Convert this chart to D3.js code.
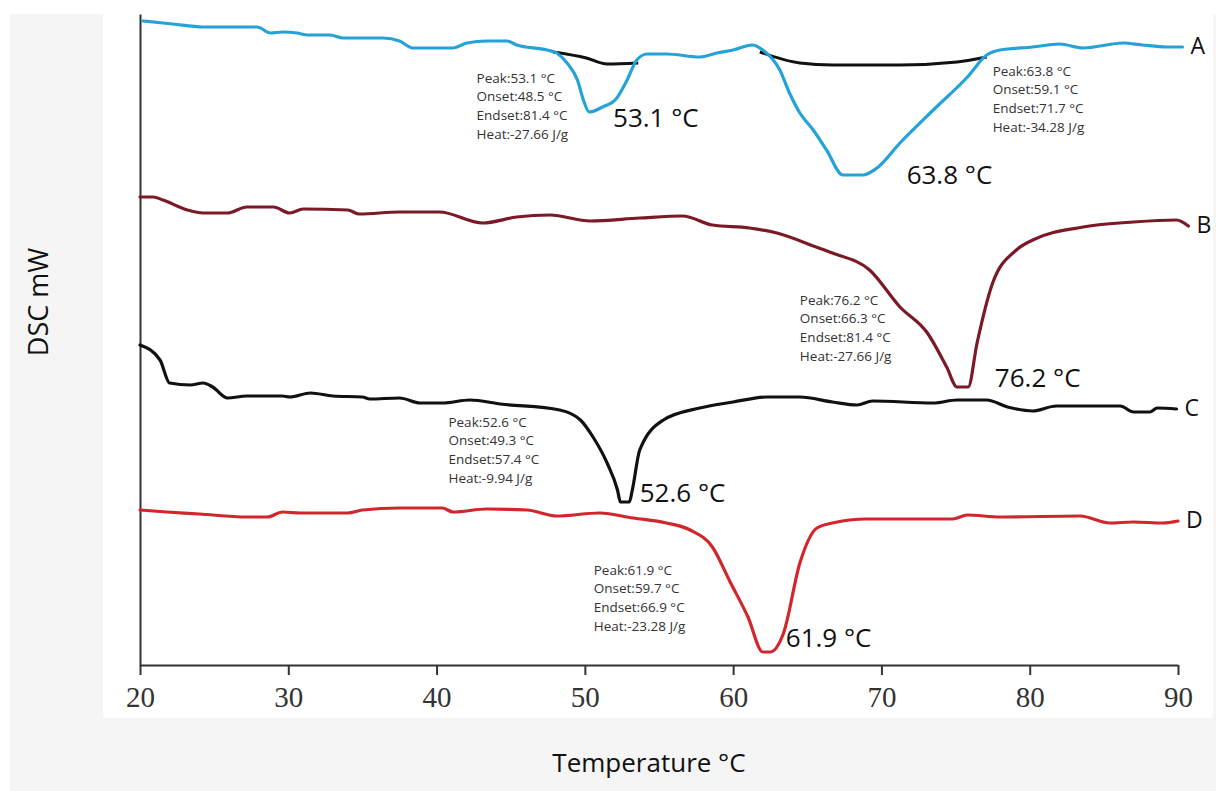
<!DOCTYPE html>
<html>
  <head>
    <meta charset="utf-8" />
    <script src="https://d3js.org/d3.v7.min.js"></script>
    <style>
      html,
      body {
        margin: 0;
        padding: 0;
        background: #fff;
      }
      svg {
        display: block;
      }
    </style>
  </head>
  <body>
    <div id="chart"></div>
    <script>
      // temperature (°C) / DSC signal (arbitrary mW units, curves offset)
      const curveA = [
        [20.2, 64.4], [21.55, 64.2], [22.2, 64.1], [24.25, 63.8], [27.9, 63.8],
        [28.8, 63.2], [29.6, 63.3], [30.6, 63.2], [31.3, 63.0], [32.8, 63.0],
        [33.7, 62.7], [36.4, 62.7], [37.5, 62.4], [38.4, 61.7], [41.1, 61.7],
        [42.05, 62.2], [43.4, 62.4], [44.75, 62.4], [45.4, 62.0], [47.45, 61.5],
        [48.1, 61.2], [48.8, 60.2], [49.5, 58.5], [49.9, 56.5], [50.3, 55.3],
        [51.2, 55.8], [52.1, 56.6], [52.85, 58.5], [53.5, 60.5], [54.2, 61.1],
        [55.5, 61.1], [57.75, 60.8], [58.9, 61.2], [60.0, 61.5], [61.3, 62.0],
        [62.0, 61.5], [63.15, 59.5], [63.8, 57.2], [64.5, 55.2], [65.4, 53.5],
        [66.3, 51.5], [67.4, 49.0], [68.75, 49.0], [69.7, 49.7], [71.25, 52.2],
        [73.5, 55.5], [75.8, 58.8], [77.1, 61.0], [78.0, 61.5], [80.2, 61.8],
        [82.0, 62.1], [83.6, 61.7], [86.3, 62.2], [87.6, 62.0], [89.25, 61.8],
        [90.3, 61.8]
      ];
      const baselineA1 = [[47.85, 61.3], [50.1, 60.7], [51.5, 60.1], [53.6, 60.2]];
      const baselineA2 = [
        [61.8, 61.3], [64.5, 60.2], [66.7, 60.0], [71.25, 60.0], [75.1, 60.3], [77.1, 60.8]
      ];
      const curveB = [
        [20.0, 46.8], [20.9, 46.8], [21.55, 46.5], [23.2, 45.5], [24.25, 45.2],
        [25.9, 45.2], [27.2, 45.8], [29.0, 45.8], [30.1, 45.2], [31.0, 45.6],
        [34.0, 45.5], [34.8, 45.1], [37.5, 45.3], [40.2, 45.3], [43.1, 44.2],
        [45.4, 44.8], [47.65, 45.0], [50.35, 44.4], [53.7, 44.7], [56.6, 44.9],
        [58.6, 44.0], [61.1, 43.7], [62.95, 43.2], [65.6, 41.8], [66.7, 41.2],
        [69.2, 39.5], [71.25, 35.8], [73.1, 33.2], [74.4, 29.8], [75.1, 27.8],
        [75.85, 27.8], [76.45, 32.2], [77.5, 38.2], [79.1, 41.5], [80.2, 42.5],
        [83.6, 43.8], [87.0, 44.3], [89.9, 44.5], [90.7, 43.9]
      ];
      const curveC = [
        [20.0, 32.0], [21.35, 30.5], [22.0, 28.2], [23.4, 28.0], [24.25, 28.2],
        [24.9, 27.8], [25.9, 26.7], [27.2, 26.9], [29.6, 26.9], [30.1, 26.8],
        [31.5, 27.2], [33.0, 26.9], [35.0, 26.8], [35.5, 26.6], [37.5, 26.7],
        [38.9, 26.2], [40.4, 26.2], [42.25, 26.5], [44.3, 26.1], [48.3, 25.5],
        [49.7, 24.5], [50.55, 22.8], [51.5, 20.2], [52.2, 17.5], [52.4, 16.3],
        [53.0, 16.3], [53.2, 17.5], [53.7, 21.5], [55.3, 24.5], [57.75, 25.7],
        [60.0, 26.3], [62.3, 26.8], [64.5, 26.8], [66.7, 26.3], [68.35, 26.0],
        [69.4, 26.4], [73.5, 26.2], [75.1, 26.5], [77.1, 26.5], [78.5, 25.8],
        [80.2, 25.4], [81.8, 25.9], [86.1, 25.9], [87.0, 25.3], [88.1, 25.3],
        [88.6, 25.7], [89.9, 25.6]
      ];
      const curveD = [
        [20.0, 15.5], [21.8, 15.3], [24.0, 15.1], [27.2, 14.8], [28.6, 14.8],
        [29.6, 15.3], [30.8, 15.2], [34.0, 15.2], [35.0, 15.5], [37.5, 15.7],
        [40.4, 15.7], [41.1, 15.3], [43.4, 15.6], [46.1, 15.5], [48.1, 14.9],
        [51.0, 15.2], [53.25, 14.7], [55.5, 14.2], [57.1, 13.5], [58.6, 11.8],
        [59.8, 8.3], [61.0, 4.8], [62.0, 1.3], [62.5, 1.3], [63.4, 3.2],
        [64.5, 10.2], [65.65, 13.7], [66.7, 14.2], [69.0, 14.6], [74.8, 14.6],
        [75.8, 15.0], [78.0, 14.8], [83.4, 14.9], [85.4, 14.2], [87.0, 14.3],
        [89.0, 14.2], [90.0, 14.4]
      ];

      const seriesNames = ["A", "B", "C", "D"];
      const xTicks = [20, 30, 40, 50, 60, 70, 80, 90];

      // big peak labels and where they sit (°C, signal)
      const peakLabels = ["53.1 °C", "63.8 °C", "76.2 °C", "52.6 °C", "61.9 °C"];
      const peakLabelAt = [[51.9, 54.7], [71.7, 49.0], [77.65, 28.7], [53.7, 17.2], [63.55, 2.7]];
      const infoBlocks = [
        ["Peak:53.1 °C", "Onset:48.5 °C", "Endset:81.4 °C", "Heat:-27.66 J/g"],
        ["Peak:63.8 °C", "Onset:59.1 °C", "Endset:71.7 °C", "Heat:-34.28 J/g"],
        ["Peak:76.2 °C", "Onset:66.3 °C", "Endset:81.4 °C", "Heat:-27.66 J/g"],
        ["Peak:52.6 °C", "Onset:49.3 °C", "Endset:57.4 °C", "Heat:-9.94 J/g"],
        ["Peak:61.9 °C", "Onset:59.7 °C", "Endset:66.9 °C", "Heat:-23.28 J/g"]
      ];
      const infoAt = [[42.7, 58.7], [77.5, 59.4], [64.5, 36.5], [40.8, 24.3], [50.6, 9.5]];

      const width = 1216;
      const height = 791;

      const svg = d3
        .select("#chart")
        .append("svg")
        .attr("width", width)
        .attr("height", height);

      // grey backdrop and white plot card
      svg
        .append("rect")
        .attr("x", 10)
        .attr("y", 14)
        .attr("width", width - 10)
        .attr("height", height - 14)
        .attr("fill", "#f5f5f5");
      svg
        .append("rect")
        .attr("x", 103)
        .attr("y", 0)
        .attr("width", 1110)
        .attr("height", 718)
        .attr("fill", "#fff");

      const x = d3.scaleLinear().domain([20, 90]).range([140, 1178]);
      const y = d3.scaleLinear().domain([0, 65.1]).range([665, 14]);

      const xAxis = svg
        .append("g")
        .attr("transform", `translate(0,${y(0)})`)
        .call(
          d3
            .axisBottom(x)
            .tickValues(xTicks)
            .tickSize(10)
            .tickSizeOuter(0)
            .tickPadding(11)
        );
      xAxis.select(".domain").attr("stroke", "#333").attr("stroke-width", 2);
      xAxis.selectAll(".tick line").attr("stroke", "#333").attr("stroke-width", 2);
      xAxis
        .selectAll(".tick text")
        .attr("fill", "#333")
        .style("font-family", "'Liberation Serif', serif")
        .style("font-size", "29px");

      const yAxis = svg
        .append("g")
        .attr("transform", `translate(${x(20)},0)`)
        .call(d3.axisLeft(y).tickValues([]).tickSizeOuter(0));
      yAxis.select(".domain").attr("stroke", "#333").attr("stroke-width", 2);

      const line = d3
        .line()
        .curve(d3.curveMonotoneX)
        .x((d) => x(d[0]))
        .y((d) => y(d[1]));

      const curves = [
        { name: "A", data: curveA, color: "#25a2d8" },
        { name: "B", data: curveB, color: "#7b1a26" },
        { name: "C", data: curveC, color: "#111" },
        { name: "D", data: curveD, color: "#d1262c" }
      ];

      [baselineA1, baselineA2].forEach((b) => {
        svg
          .append("path")
          .datum(b)
          .attr("d", line)
          .attr("fill", "none")
          .attr("stroke", "#111")
          .attr("stroke-width", 3)
          .attr("stroke-linejoin", "round");
      });

      curves.forEach((c, i) => {
        svg
          .append("path")
          .datum(c.data)
          .attr("d", line)
          .attr("fill", "none")
          .attr("stroke", c.color)
          .attr("stroke-width", 3.2)
          .attr("stroke-linejoin", "round")
          .attr("stroke-linecap", "round");

        const last = c.data[c.data.length - 1];
        svg
          .append("text")
          .attr("x", x(last[0]) + 8)
          .attr("y", y(last[1]) - 1)
          .attr("dy", "0.35em")
          .style("font-family", "'Open Sans', sans-serif")
          .style("font-size", "23px")
          .attr("fill", "#111")
          .text(seriesNames[i]);
      });

      // small read-out blocks
      infoBlocks.forEach((lines, i) => {
        const t = svg
          .append("text")
          .attr("x", x(infoAt[i][0]))
          .attr("y", y(infoAt[i][1]))
          .style("font-family", "'Open Sans', sans-serif")
          .style("font-size", "13.5px")
          .attr("fill", "#333");
        lines.forEach((s, j) => {
          t.append("tspan")
            .attr("x", x(infoAt[i][0]))
            .attr("dy", j === 0 ? "0.35em" : "18.6px")
            .text(s);
        });
      });

      // big peak labels
      svg
        .selectAll(".peak")
        .data(peakLabels)
        .enter()
        .append("text")
        .attr("class", "peak")
        .attr("x", (d, i) => x(peakLabelAt[i][0]))
        .attr("y", (d, i) => y(peakLabelAt[i][1]))
        .attr("dy", "0.35em")
        .style("font-family", "'Open Sans', sans-serif")
        .style("font-size", "26px")
        .attr("fill", "#111")
        .text((d) => d);

      // axis titles
      svg
        .append("text")
        .attr("x", 649)
        .attr("y", 763)
        .attr("dy", "0.35em")
        .attr("text-anchor", "middle")
        .style("font-family", "'Open Sans', sans-serif")
        .style("font-size", "26px")
        .attr("fill", "#111")
        .text("Temperature °C");

      svg
        .append("text")
        .attr("transform", "translate(39,302) rotate(-90)")
        .attr("dy", "0.35em")
        .attr("text-anchor", "middle")
        .style("font-family", "'Open Sans', sans-serif")
        .style("font-size", "27px")
        .attr("fill", "#111")
        .text("DSC mW");
    </script>
  </body>
</html>
